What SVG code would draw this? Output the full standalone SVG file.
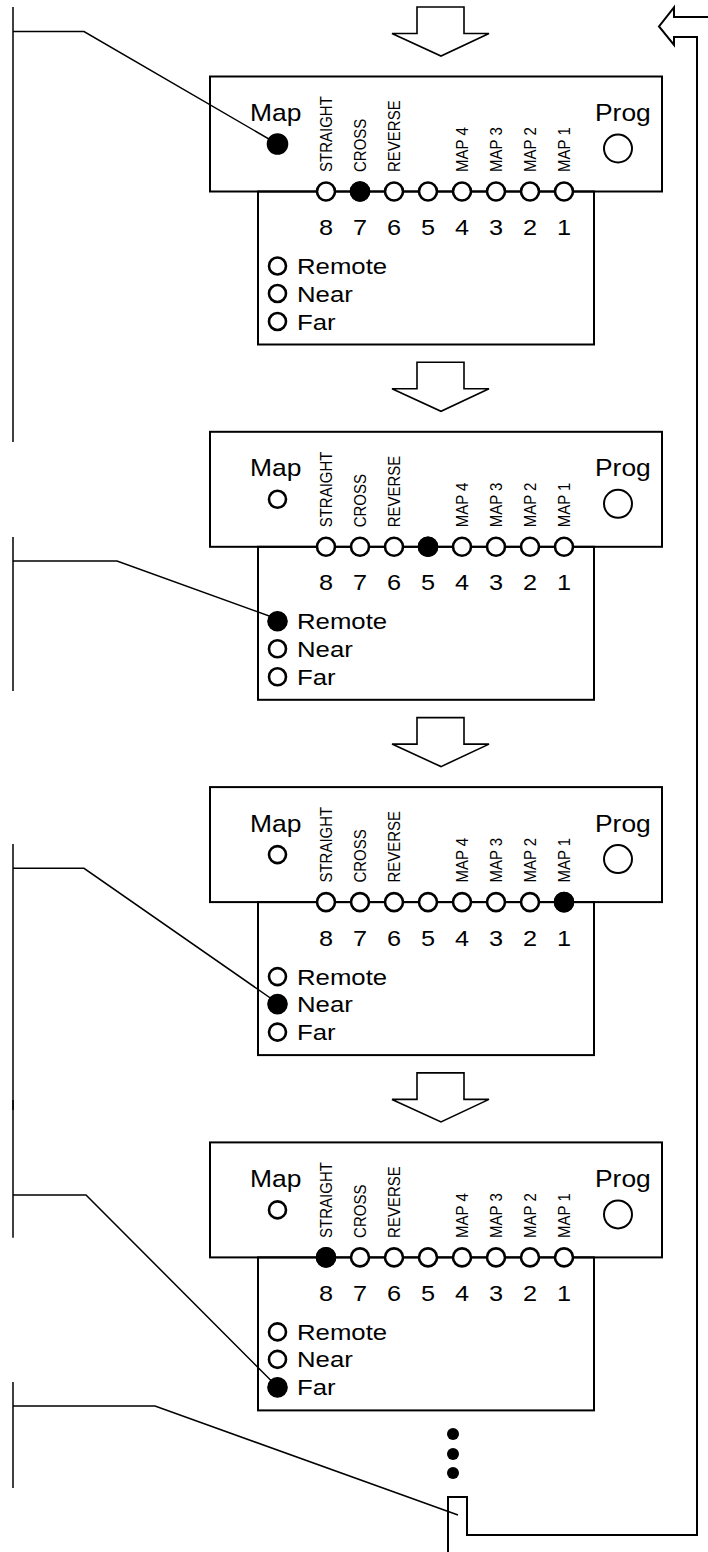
<svg xmlns="http://www.w3.org/2000/svg" width="708" height="1552" viewBox="0 0 708 1552">
<style>
  .box{fill:none;stroke:#000;stroke-width:2}
  .led{fill:#fff;stroke:#000;stroke-width:2.6}
  .on{fill:#000;stroke:#000;stroke-width:2.6}
  .prog{fill:#fff;stroke:#000;stroke-width:2}
  .arrow{fill:#fff;stroke:#000;stroke-width:1.6;stroke-linejoin:miter}
  .conn{fill:none;stroke:#000;stroke-width:1.5}
  .t{font-family:"Liberation Sans",Arial,sans-serif;fill:#000}
  .big{font-size:24px}
  .mid{font-size:22px}
  .dig{font-size:22px;text-anchor:middle}
  .sm{font-size:15px}
</style>
<defs>
  <g id="panel">
    <rect class="box" x="210" y="0" width="452" height="115"/>
    <rect class="box" x="258" y="115" width="336" height="153"/>
    <text class="t big" transform="translate(250,44.5) scale(1.1,1)">Map</text>
    <text class="t big" transform="translate(595,44.5) scale(1.1,1)">Prog</text>
    <circle class="prog" cx="618" cy="72" r="14"/>
    <text class="t sm" transform="translate(332,95.5) rotate(-90) scale(1,1.15)">STRAIGHT</text>
    <text class="t sm" transform="translate(366,95.5) rotate(-90) scale(1,1.15)">CROSS</text>
    <text class="t sm" transform="translate(400,95.5) rotate(-90) scale(1,1.15)">REVERSE</text>
    <text class="t sm" transform="translate(468,95.5) rotate(-90) scale(1,1.15)">MAP 4</text>
    <text class="t sm" transform="translate(502,95.5) rotate(-90) scale(1,1.15)">MAP 3</text>
    <text class="t sm" transform="translate(536,95.5) rotate(-90) scale(1,1.15)">MAP 2</text>
    <text class="t sm" transform="translate(570,95.5) rotate(-90) scale(1,1.15)">MAP 1</text>
    <circle class="led" cx="326" cy="115" r="9"/>
    <circle class="led" cx="360" cy="115" r="9"/>
    <circle class="led" cx="394" cy="115" r="9"/>
    <circle class="led" cx="428" cy="115" r="9"/>
    <circle class="led" cx="462" cy="115" r="9"/>
    <circle class="led" cx="496" cy="115" r="9"/>
    <circle class="led" cx="530" cy="115" r="9"/>
    <circle class="led" cx="564" cy="115" r="9"/>
    <text class="t dig" transform="translate(326,158.5) scale(1.15,1)">8</text>
    <text class="t dig" transform="translate(360,158.5) scale(1.15,1)">7</text>
    <text class="t dig" transform="translate(394,158.5) scale(1.15,1)">6</text>
    <text class="t dig" transform="translate(428,158.5) scale(1.15,1)">5</text>
    <text class="t dig" transform="translate(462,158.5) scale(1.15,1)">4</text>
    <text class="t dig" transform="translate(496,158.5) scale(1.15,1)">3</text>
    <text class="t dig" transform="translate(530,158.5) scale(1.15,1)">2</text>
    <text class="t dig" transform="translate(564,158.5) scale(1.15,1)">1</text>
    <circle class="led" cx="277.5" cy="67.5" r="8.5"/>
    <circle class="led" cx="277.5" cy="189.5" r="8.5"/>
    <circle class="led" cx="277.5" cy="217" r="8.5"/>
    <circle class="led" cx="277.5" cy="245" r="8.5"/>
    <text class="t mid" transform="translate(297,197.5) scale(1.17,1)">Remote</text>
    <text class="t mid" transform="translate(297,225) scale(1.17,1)">Near</text>
    <text class="t mid" transform="translate(297,253) scale(1.17,1)">Far</text>
  </g>
  <polygon id="darrow" class="arrow" points="417,-69.5 464,-69.5 464,-43 489,-43 441,-20.5 392,-43 417,-43"/>
</defs>

<g id="connectors">
  <polyline class="conn" points="13,7 13,442"/>
  <polyline class="conn" points="13,31.5 84,31.5 277.5,144"/>
  <polyline class="conn" points="13,537 13,691"/>
  <polyline class="conn" points="13,561 117,561 277.5,619"/>
  <polyline class="conn" points="13,844 13,1110"/>
  <polyline class="conn" points="13,868.3 84,868.3 277.5,1003"/>
  <polyline class="conn" points="13,1100 13,1237.7"/>
  <polyline class="conn" points="13,1195 86,1195 277.5,1387"/>
  <polyline class="conn" points="13,1382 13,1488"/>
  <polyline class="conn" points="13,1406 155,1406 458,1515"/>
  <polyline class="arrow" style="fill:none;stroke-width:2" points="448,1552 448,1497 467,1497 467,1535 697,1535 697,37 674,37 674,45 659,26.5 674,7.5 674,17 708,17"/>
  <use href="#darrow" transform="translate(0,76.5)"/>
  <use href="#darrow" transform="translate(0,431.8)"/>
  <use href="#darrow" transform="translate(0,787.1)"/>
  <use href="#darrow" transform="translate(0,1142.4)"/>
</g>

<g id="panel1" transform="translate(0,76.5)">
  <use href="#panel"/>
  <circle class="on" cx="277.5" cy="67.5" r="9.5"/>
  <circle class="on" cx="360" cy="115" r="9"/>
</g>

<g id="panel2" transform="translate(0,431.8)">
  <use href="#panel"/>
  <circle class="on" cx="428" cy="115" r="9"/>
  <circle class="on" cx="277.5" cy="189.5" r="9"/>
</g>

<g id="panel3" transform="translate(0,787.1)">
  <use href="#panel"/>
  <circle class="on" cx="564" cy="115" r="9"/>
  <circle class="on" cx="277.5" cy="217" r="9"/>
</g>

<g id="panel4" transform="translate(0,1142.4)">
  <use href="#panel"/>
  <circle class="on" cx="326" cy="115" r="9"/>
  <circle class="on" cx="277.5" cy="245" r="9"/>
</g>

<g id="dots">
  <circle cx="453" cy="1434" r="6" fill="#000"/>
  <circle cx="453" cy="1454" r="6" fill="#000"/>
  <circle cx="453" cy="1473" r="6" fill="#000"/>
</g>
</svg>
